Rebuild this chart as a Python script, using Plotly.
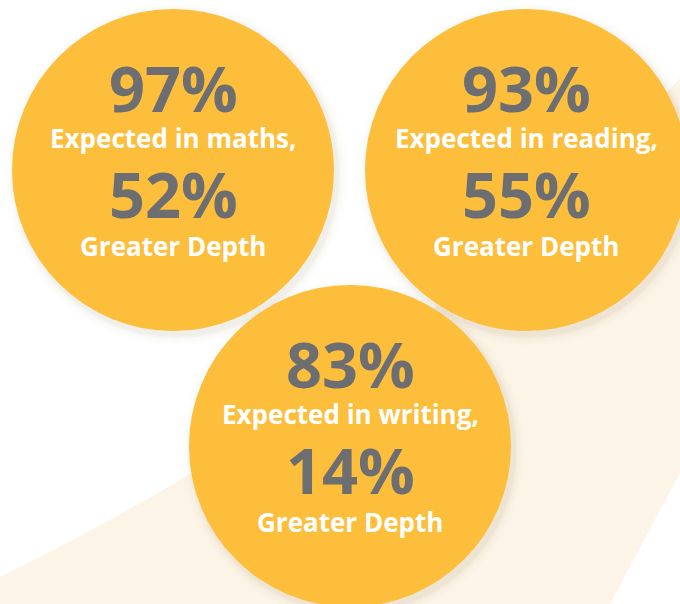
import plotly.graph_objects as go

# ---- data ----
subjects = ["maths", "reading", "writing"]
expected_pct = [97, 93, 83]
greater_depth_pct = [52, 55, 14]
subtitle_labels = ["Expected in maths,", "Expected in reading,", "Expected in writing,"]
depth_label = "Greater Depth"

# ---- layout constants ----
W, H = 680, 604
centers = [(173, 170), (526, 170), (350, 446)]
R = 161
YELLOW = "#FDBE3B"
GREY = "#6D6E71"
BEIGE = "#FCF4E7"

fig = go.Figure()

shapes = []
# background beige band
shapes.append(dict(type="path", xref="x", yref="y",
                   path="M 0 577 Q 420 370 680 78 L 680 473 L 610 604 L 0 604 Z",
                   fillcolor=BEIGE, line=dict(width=0), layer="below"))

# soft shadows
for (cx, cy) in centers:
    for k, a in [(10, 0.015), (7, 0.02), (4, 0.03), (2, 0.04)]:
        shapes.append(dict(type="circle", xref="x", yref="y",
                           x0=cx - R - k + 3, x1=cx + R + k + 3,
                           y0=cy - R - k + 4, y1=cy + R + k + 4,
                           fillcolor=f"rgba(120,100,60,{a})", line=dict(width=0), layer="below"))
# circles
for (cx, cy) in centers:
    shapes.append(dict(type="circle", xref="x", yref="y",
                       x0=cx - R, x1=cx + R, y0=cy - R, y1=cy + R,
                       fillcolor=YELLOW, line=dict(width=0), layer="below"))

annotations = []
FONT = "Open Sans"
for (cx, cy), e, g, lab in zip(centers, expected_pct, greater_depth_pct, subtitle_labels):
    annotations.append(dict(x=cx, y=cy - 83, xref="x", yref="y", text=f"<b>{e}%</b>",
                            showarrow=False, xanchor="center", yanchor="middle",
                            font=dict(family=FONT, size=63, color=GREY)))
    annotations.append(dict(x=cx, y=cy - 32, xref="x", yref="y", text=f"<b>{lab}</b>",
                            showarrow=False, xanchor="center", yanchor="middle",
                            font=dict(family=FONT, size=26, color="white")))
    annotations.append(dict(x=cx, y=cy + 23, xref="x", yref="y", text=f"<b>{g}%</b>",
                            showarrow=False, xanchor="center", yanchor="middle",
                            font=dict(family=FONT, size=63, color=GREY)))
    annotations.append(dict(x=cx, y=cy + 76, xref="x", yref="y", text=f"<b>{depth_label}</b>",
                            showarrow=False, xanchor="center", yanchor="middle",
                            font=dict(family=FONT, size=26, color="white")))

fig.update_layout(
    width=W, height=H,
    margin=dict(l=0, r=0, t=0, b=0),
    paper_bgcolor="white", plot_bgcolor="white",
    xaxis=dict(range=[0, W], visible=False, fixedrange=True),
    yaxis=dict(range=[H, 0], visible=False, fixedrange=True),
    shapes=shapes, annotations=annotations, showlegend=False,
)

fig.write_html("out.html", config={"displayModeBar": False},
               post_script="document.body.style.margin='0';document.body.style.overflow='hidden';")
